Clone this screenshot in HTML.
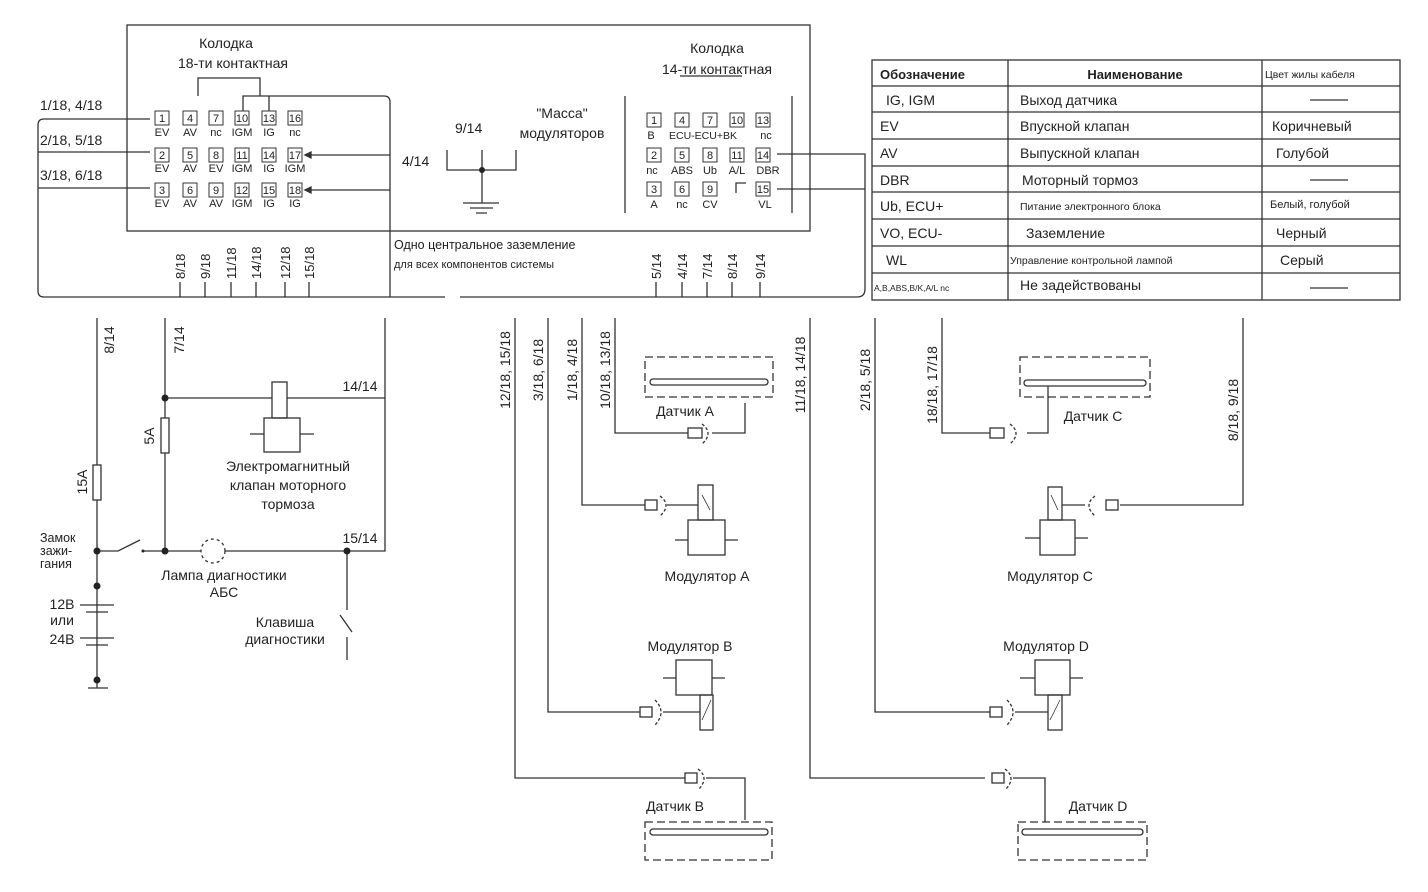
<!DOCTYPE html>
<html><head><meta charset="utf-8"><style>
html,body{margin:0;padding:0;background:#fff}
svg{display:block}
text{font-family:"Liberation Sans","DejaVu Sans",sans-serif;fill:#222}
</style></head><body>
<svg width="1428" height="892" viewBox="0 0 1428 892" xmlns="http://www.w3.org/2000/svg">
<g stroke="#333" stroke-width="1.3" fill="none">
<rect x="127" y="25" width="683" height="206"/>
<path d="M150 119 H44 Q38 119 38 125 V291 Q38 297 44 297 H445 M460 297 H857 Q865 297 865 289 V154 H777 M865 189 H777"/>
<path d="M150 152 H38 M150 188 H38"/>
<path d="M198 96 V78 H260 V96 M243 112 V96 H312 M269 96 V112 M312 96 H384 Q390 96 390 102 V297"/>
<path d="M390 155 H305 M390 190 H305"/>
<path d="M305 155 l6 -3 v6 z M305 190 l6 -3 v6 z" fill="#333"/>
<path d="M180 282 V297 M205 282 V297 M231 282 V297 M256 282 V297 M285 282 V297 M309 282 V297"/>
<path d="M656 282 V297 M682 282 V297 M707 282 V297 M732 282 V297 M760 282 V297"/>
<path d="M447 150 V170 H516 V150 M482 150 V203 M463 203 H499 M470 208 H493 M476 213 H487"/>
<path d="M625 96 V213 M792 96 V213 M736 193 V183 H746"/>
<path d="M680 76 H742"/>
<rect x="872" y="60" width="528" height="240"/>
<path d="M1008 60 V300 M1262 60 V300 M872 86 H1400 M872 112 H1400 M872 139 H1400 M872 166 H1400 M872 192 H1400 M872 219 H1400 M872 246 H1400 M872 273 H1400"/>
<path d="M1310 100 H1348 M1310 180 H1348 M1310 288 H1348"/>
<path d="M97 318 V465 M97 500 V688 M88 688 H108"/>
<rect x="93" y="465" width="8" height="35"/>
<path d="M80 605 H114 M86 612 H108 M80 638 H114 M86 645 H108"/>
<path d="M97 551 H118 L140 540 M143 551 H385 V318 M165 318 V418 M165 453 V551 M165 398 H385"/>
<rect x="161" y="418" width="8" height="35"/>
<circle cx="213" cy="551" r="12" fill="#fff" stroke-dasharray="3 3"/>
<path d="M347 551 V610 M340 615 L352 632 M347 637 V660"/>
<rect x="272" y="382" width="15" height="36" fill="#fff"/>
<rect x="264" y="418" width="36" height="34"/>
<path d="M250 434 H264 M300 434 H314"/>
<path d="M515 318 V778 H685 M548 318 V712 H640 M582 318 V505 H645 M615 318 V433 H688 M810 318 V778 H985"/>
<rect x="645" y="357" width="128" height="40" stroke-dasharray="8 4"/>
<rect x="650" y="379" width="118" height="6" rx="3"/>
<path d="M745 403 V433 H712"/>
<rect x="688" y="428" width="14" height="10"/>
<path d="M702 424 Q714 433 702 444" stroke-dasharray="3 2"/>
<rect x="645" y="500" width="12" height="10"/>
<path d="M660 496 Q672 505 660 516" stroke-dasharray="3 2"/>
<path d="M667 505 H698"/>
<rect x="698" y="485" width="15" height="35"/>
<path d="M702 495 L710 510" stroke-width="0.8"/>
<rect x="688" y="520" width="37" height="35"/>
<path d="M675 540 H688 M725 540 H738"/>
<rect x="676" y="660" width="36" height="35"/>
<path d="M663 678 H676 M712 678 H725"/>
<rect x="700" y="695" width="13" height="35"/>
<path d="M702 720 L711 700" stroke-width="0.8"/>
<rect x="640" y="707" width="12" height="10"/>
<path d="M655 700 Q667 712 655 725" stroke-dasharray="3 2"/>
<path d="M663 712 H700"/>
<rect x="685" y="773" width="12" height="10"/>
<path d="M698 769 Q710 778 698 790" stroke-dasharray="3 2"/>
<path d="M706 778 H745 V820"/>
<rect x="645" y="822" width="127" height="38" stroke-dasharray="8 4"/>
<rect x="650" y="829" width="118" height="6" rx="3"/>
<path d="M875 318 V712 H990 M942 318 V433 H990 M1243 318 V505 H1120"/>
<rect x="1020" y="357" width="130" height="40" stroke-dasharray="8 4"/>
<rect x="1024" y="380" width="122" height="6" rx="3"/>
<path d="M1048 386 V433 H1027"/>
<rect x="990" y="428" width="14" height="10"/>
<path d="M1010 424 Q1022 433 1010 444" stroke-dasharray="3 2"/>
<rect x="1048" y="487" width="14" height="33"/>
<path d="M1051 495 L1058 510" stroke-width="0.8"/>
<rect x="1040" y="520" width="35" height="35"/>
<path d="M1025 538 H1040 M1075 538 H1088 M1062 505 H1085"/>
<path d="M1095 496 Q1083 505 1095 516" stroke-dasharray="3 2"/>
<rect x="1106" y="500" width="12" height="10"/>
<rect x="1035" y="660" width="35" height="35"/>
<path d="M1020 678 H1035 M1070 678 H1083"/>
<rect x="1048" y="695" width="14" height="35"/>
<path d="M1050 720 L1060 700" stroke-width="0.8"/>
<rect x="990" y="707" width="12" height="10"/>
<path d="M1007 700 Q1019 712 1007 725" stroke-dasharray="3 2"/>
<path d="M1015 712 H1048"/>
<rect x="992" y="773" width="12" height="10"/>
<path d="M1005 769 Q1017 778 1005 790" stroke-dasharray="3 2"/>
<path d="M1013 778 H1045 V822"/>
<rect x="1018" y="822" width="129" height="38" stroke-dasharray="8 4"/>
<rect x="1022" y="829" width="121" height="6" rx="3"/>
</g>
<g stroke="#333" stroke-width="1" fill="#fff">
<rect x="155" y="111" width="14" height="14"/><rect x="183" y="111" width="14" height="14"/><rect x="209" y="111" width="14" height="14"/><rect x="235" y="111" width="14" height="14"/><rect x="262" y="111" width="14" height="14"/><rect x="288" y="111" width="14" height="14"/>
<rect x="155" y="148" width="14" height="14"/><rect x="183" y="148" width="14" height="14"/><rect x="209" y="148" width="14" height="14"/><rect x="235" y="148" width="14" height="14"/><rect x="262" y="148" width="14" height="14"/><rect x="288" y="148" width="14" height="14"/>
<rect x="155" y="183" width="14" height="14"/><rect x="183" y="183" width="14" height="14"/><rect x="209" y="183" width="14" height="14"/><rect x="235" y="183" width="14" height="14"/><rect x="262" y="183" width="14" height="14"/><rect x="288" y="183" width="14" height="14"/>
<rect x="647" y="113" width="14" height="14"/><rect x="675" y="113" width="14" height="14"/><rect x="703" y="113" width="14" height="14"/><rect x="730" y="113" width="14" height="14"/><rect x="756" y="113" width="14" height="14"/>
<rect x="647" y="148" width="14" height="14"/><rect x="675" y="148" width="14" height="14"/><rect x="703" y="148" width="14" height="14"/><rect x="730" y="148" width="14" height="14"/><rect x="756" y="148" width="14" height="14"/>
<rect x="647" y="182" width="14" height="14"/><rect x="675" y="182" width="14" height="14"/><rect x="703" y="182" width="14" height="14"/><rect x="756" y="182" width="14" height="14"/>
</g>
<g fill="#222">
<circle cx="482" cy="170" r="3"/><circle cx="97" cy="551" r="3.5"/><circle cx="97" cy="586" r="3.5"/><circle cx="97" cy="680" r="3.5"/>
<circle cx="165" cy="551" r="3.5"/><circle cx="165" cy="398" r="3.5"/><circle cx="347" cy="551" r="3.5"/><circle cx="143" cy="551" r="1.5"/>
</g>
<g font-size="11" text-anchor="middle">
<text x="162" y="122">1</text><text x="190" y="122">4</text><text x="216" y="122">7</text><text x="242" y="122">10</text><text x="269" y="122">13</text><text x="295" y="122">16</text>
<text x="162" y="159">2</text><text x="190" y="159">5</text><text x="216" y="159">8</text><text x="242" y="159">11</text><text x="269" y="159">14</text><text x="295" y="159">17</text>
<text x="162" y="194">3</text><text x="190" y="194">6</text><text x="216" y="194">9</text><text x="242" y="194">12</text><text x="269" y="194">15</text><text x="295" y="194">18</text>
<text x="654" y="124">1</text><text x="682" y="124">4</text><text x="710" y="124">7</text><text x="737" y="124">10</text><text x="763" y="124">13</text>
<text x="654" y="159">2</text><text x="682" y="159">5</text><text x="710" y="159">8</text><text x="737" y="159">11</text><text x="763" y="159">14</text>
<text x="654" y="193">3</text><text x="682" y="193">6</text><text x="710" y="193">9</text><text x="763" y="193">15</text>
</g>
<g font-size="11" text-anchor="middle">
<text x="162" y="136">EV</text><text x="190" y="136">AV</text><text x="216" y="136">nc</text><text x="242" y="136">IGM</text><text x="269" y="136">IG</text><text x="295" y="136">nc</text>
<text x="162" y="172">EV</text><text x="190" y="172">AV</text><text x="216" y="172">EV</text><text x="242" y="172">IGM</text><text x="269" y="172">IG</text><text x="295" y="172">IGM</text>
<text x="162" y="207">EV</text><text x="190" y="207">AV</text><text x="216" y="207">AV</text><text x="242" y="207">IGM</text><text x="269" y="207">IG</text><text x="295" y="207">IG</text>
<text x="651" y="139">B</text><text x="703" y="139" font-size="10.5">ECU-ECU+BK</text><text x="766" y="139">nc</text>
<text x="652" y="174">nc</text><text x="682" y="174">ABS</text><text x="710" y="174">Ub</text><text x="737" y="174">A/L</text><text x="768" y="174">DBR</text>
<text x="654" y="208">A</text><text x="682" y="208">nc</text><text x="710" y="208">CV</text><text x="765" y="208">VL</text>
</g>
<g font-size="14">
<text x="226" y="48" text-anchor="middle">Колодка</text>
<text x="233" y="68" text-anchor="middle">18-ти контактная</text>
<text x="717" y="53" text-anchor="middle">Колодка</text>
<text x="717" y="74" text-anchor="middle">14-ти контактная</text>
<text x="40" y="110">1/18,  4/18</text>
<text x="40" y="145">2/18, 5/18</text>
<text x="40" y="180">3/18, 6/18</text>
<text x="455" y="133">9/14</text>
<text x="402" y="166">4/14</text>
<text x="562" y="118" text-anchor="middle">"Масса"</text>
<text x="562" y="138" text-anchor="middle">модуляторов</text>
</g>
<text x="394" y="249" font-size="12.5">Одно центральное заземление</text>
<text x="394" y="268" font-size="11">для всех компонентов системы</text>
<g font-size="13" text-anchor="start">
<text transform="translate(185,279) rotate(-90)">8/18</text>
<text transform="translate(210,279) rotate(-90)">9/18</text>
<text transform="translate(236,279) rotate(-90)">11/18</text>
<text transform="translate(261,279) rotate(-90)">14/18</text>
<text transform="translate(290,279) rotate(-90)">12/18</text>
<text transform="translate(314,279) rotate(-90)">15/18</text>
<text transform="translate(661,279) rotate(-90)">5/14</text>
<text transform="translate(687,279) rotate(-90)">4/14</text>
<text transform="translate(712,279) rotate(-90)">7/14</text>
<text transform="translate(737,279) rotate(-90)">8/14</text>
<text transform="translate(765,279) rotate(-90)">9/14</text>
</g>
<g font-size="14" text-anchor="middle">
<text transform="translate(114,340) rotate(-90)">8/14</text>
<text transform="translate(184,340) rotate(-90)">7/14</text>
<text transform="translate(154,436) rotate(-90)">5A</text>
<text transform="translate(87,482) rotate(-90)">15A</text>
<text transform="translate(510,370) rotate(-90)">12/18,  15/18</text>
<text transform="translate(543,370) rotate(-90)">3/18,  6/18</text>
<text transform="translate(577,370) rotate(-90)">1/18,  4/18</text>
<text transform="translate(610,370) rotate(-90)">10/18,  13/18</text>
<text transform="translate(805,375) rotate(-90)">11/18,  14/18</text>
<text transform="translate(870,380) rotate(-90)">2/18,  5/18</text>
<text transform="translate(937,385) rotate(-90)">18/18,  17/18</text>
<text transform="translate(1238,410) rotate(-90)">8/18,  9/18</text>
<text x="288" y="471">Электромагнитный</text>
<text x="288" y="490">клапан моторного</text>
<text x="288" y="509">тормоза</text>
<text x="224" y="580">Лампа диагностики</text>
<text x="224" y="597">АБС</text>
<text x="285" y="627">Клавиша</text>
<text x="285" y="644">диагностики</text>
<text x="360" y="391">14/14</text>
<text x="360" y="543">15/14</text>
<text x="62" y="609">12В</text>
<text x="62" y="625">или</text>
<text x="62" y="644">24В</text>
<text x="707" y="581">Модулятор А</text>
<text x="690" y="651">Модулятор В</text>
<text x="1050" y="581">Модулятор С</text>
<text x="1046" y="651">Модулятор D</text>
<text x="685" y="416">Датчик А</text>
<text x="1093" y="421">Датчик С</text>
<text x="675" y="811">Датчик В</text>
<text x="1098" y="811">Датчик D</text>
</g>
<g font-size="12.5">
<text x="40" y="542">Замок</text>
<text x="40" y="555">зажи-</text>
<text x="40" y="568">гания</text>
</g>
<g font-size="14">
<text x="880" y="79" font-weight="bold" font-size="13">Обозначение</text>
<text x="1135" y="79" text-anchor="middle" font-weight="bold" font-size="13">Наименование</text>
<text x="1265" y="78" font-size="10.5">Цвет жилы кабеля</text>
<text x="886" y="105">IG, IGM</text><text x="1020" y="105">Выход датчика</text>
<text x="880" y="131">EV</text><text x="1020" y="131">Впускной клапан</text><text x="1272" y="131">Коричневый</text>
<text x="880" y="158">AV</text><text x="1020" y="158">Выпускной клапан</text><text x="1276" y="158">Голубой</text>
<text x="880" y="185">DBR</text><text x="1022" y="185">Моторный тормоз</text>
<text x="880" y="211">Ub, ECU+</text><text x="1020" y="210" font-size="10.5">Питание электронного блока</text><text x="1270" y="208" font-size="11">Белый, голубой</text>
<text x="880" y="238">VO, ECU-</text><text x="1026" y="238">Заземление</text><text x="1276" y="238">Черный</text>
<text x="886" y="265">WL</text><text x="1010" y="264" font-size="10.5">Управление контрольной лампой</text><text x="1280" y="265">Серый</text>
<text x="874" y="291" font-size="8.5">A,B,ABS,B/K,A/L nc</text><text x="1020" y="290">Не задействованы</text>
</g>
</svg>
</body></html>
